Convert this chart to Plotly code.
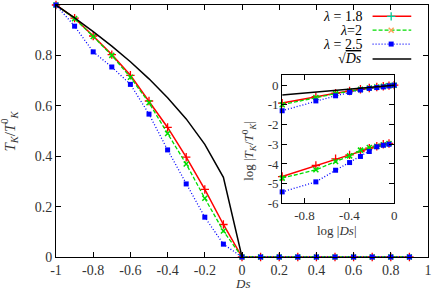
import plotly.graph_objects as go

# ---------------- data ----------------
ds = [-1, -0.9, -0.8, -0.7, -0.6, -0.5, -0.4, -0.3, -0.2, -0.1, 0,
      0.1, 0.2, 0.3, 0.4, 0.5, 0.6, 0.7, 0.8, 0.9]
tk_18 = [1, 0.948, 0.877, 0.803, 0.721, 0.619, 0.514, 0.396, 0.268, 0.129, 0,
         0, 0, 0, 0, 0, 0, 0, 0, 0]
tk_2 = [1, 0.946, 0.875, 0.800, 0.713, 0.612, 0.490, 0.369, 0.233, 0.103, 0,
        0, 0, 0, 0, 0, 0, 0, 0, 0]
tk_25 = [1, 0.916, 0.814, 0.754, 0.685, 0.567, 0.425, 0.290, 0.158, 0.051, 0,
         0, 0, 0, 0, 0, 0, 0, 0, 0]
ds_sqrt = [-1, -0.9, -0.8, -0.7, -0.6, -0.5, -0.4, -0.3, -0.2, -0.1, 0]
tk_sqrt = [1, 0.949, 0.894, 0.837, 0.775, 0.707, 0.632, 0.548, 0.447, 0.316, 0]

# inset (log10)
log_ds_up = [-1, -0.699, -0.523, -0.398, -0.301, -0.222, -0.155, -0.097, -0.046, 0]
up_18 = [-0.91, -0.58, -0.41, -0.30, -0.21, -0.145, -0.095, -0.057, -0.024, 0]
up_2 = [-0.99, -0.63, -0.43, -0.31, -0.215, -0.148, -0.097, -0.058, -0.025, 0]
up_25 = [-1.30, -0.80, -0.54, -0.37, -0.246, -0.164, -0.123, -0.089, -0.038, 0]
up_sqrt = [-0.5, -0.349, -0.262, -0.199, -0.151, -0.111, -0.077, -0.048, -0.023, 0]
log_ds_lo = [-1, -0.699, -0.523, -0.398, -0.301, -0.222, -0.155, -0.097, -0.046]
lo_18 = [-4.64, -4.08, -3.74, -3.54, -3.37, -3.20, -3.10, -3.00, -2.96]
lo_2 = [-4.72, -4.30, -3.88, -3.59, -3.30, -3.17, -3.10, -3.03, -2.96]
lo_25 = [-5.42, -4.91, -4.32, -3.93, -3.62, -3.37, -3.13, -3.05, -3.00]

x_ticks = [-1, -0.8, -0.6, -0.4, -0.2, 0, 0.2, 0.4, 0.6, 0.8, 1]
x_ticktext = ["-1", "-0.8", "-0.6", "-0.4", "-0.2", "0", "0.2", "0.4", "0.6", "0.8", "1"]
y_ticks = [0, 0.2, 0.4, 0.6, 0.8, 1]
y_ticktext = ["0", "0.2", "0.4", "0.6", "0.8", "1"]
ix_ticks = [-0.8, -0.4, 0]
ix_ticktext = ["-0.8", "-0.4", "0"]
iy_ticks = [0, -1, -2, -3, -4, -5, -6]
iy_ticktext = ["0", "-1", "-2", "-3", "-4", "-5", "-6"]

legend_labels = ["<i>λ</i> = 1.8", "<i>λ</i>=2", "<i>λ</i> = 2.5",
                 "√<span style='text-decoration:overline'><i>Ds</i></span>"]

# ---------------- styles ----------------
RED, GREEN, BLUE, BLACK = "#ff0000", "#00dd00", "#0000ff", "#000000"
FONT = "Liberation Serif, DejaVu Serif, serif"
styles = [
    dict(line=dict(color=RED, width=1.5, dash="solid"),
         marker=dict(symbol="cross-thin-open", size=6, line=dict(color=RED, width=1.3))),
    dict(line=dict(color=GREEN, width=1.3, dash="4px,2px"),
         marker=dict(symbol="x-thin-open", size=5, line=dict(color=GREEN, width=1.5))),
    dict(line=dict(color=BLUE, width=1.3, dash="1px,2px"),
         marker=dict(symbol="square", size=5, color=BLUE, line=dict(width=0))),
    dict(line=dict(color=BLACK, width=1.5, dash="solid"), marker=None),
]

fig = go.Figure()

main_series = [(ds, tk_18), (ds, tk_2), (ds, tk_25), (ds_sqrt, tk_sqrt)]
for (xs, ys), st in zip(main_series, styles):
    mode = "lines+markers" if st["marker"] else "lines"
    kw = dict(x=xs, y=ys, mode=mode, line=st["line"], showlegend=False,
              cliponaxis=False, xaxis="x", yaxis="y")
    if st["marker"]:
        kw["marker"] = st["marker"]
    fig.add_trace(go.Scatter(**kw))

inset_series = [
    (log_ds_up, up_18, 0), (log_ds_up, up_2, 1), (log_ds_up, up_25, 2), (log_ds_up, up_sqrt, 3),
    (log_ds_lo, lo_18, 0), (log_ds_lo, lo_2, 1), (log_ds_lo, lo_25, 2),
]
for xs, ys, si in inset_series:
    st = styles[si]
    mode = "lines+markers" if st["marker"] else "lines"
    kw = dict(x=xs, y=ys, mode=mode, line=st["line"], showlegend=False,
              cliponaxis=False, xaxis="x2", yaxis="y2")
    if st["marker"]:
        kw["marker"] = st["marker"]
    fig.add_trace(go.Scatter(**kw))

# ---------------- manual legend (text left, sample right) ----------------
leg_y = [0.955, 0.900, 0.845, 0.786]
for i, (lab, st) in enumerate(zip(legend_labels, styles)):
    fig.add_trace(go.Scatter(x=[0.851, 0.955], y=[leg_y[i]] * 2, mode="lines",
                             line=st["line"], showlegend=False, hoverinfo="skip",
                             xaxis="x3", yaxis="y3"))
    if st["marker"]:
        fig.add_trace(go.Scatter(x=[0.901], y=[leg_y[i]], mode="markers",
                                 marker=st["marker"], showlegend=False, hoverinfo="skip",
                                 xaxis="x3", yaxis="y3", cliponaxis=False))
    fig.add_annotation(text=lab, x=0.829, y=leg_y[i], xref="paper", yref="paper",
                       xanchor="right", yanchor="middle", showarrow=False,
                       font=dict(family=FONT, size=14, color="black"))

axis_common = dict(showline=True, linecolor="black", linewidth=1, mirror="ticks",
                   ticks="inside", ticklen=5, tickcolor="black", tickwidth=1,
                   showgrid=False, zeroline=False)
main_tick = dict(tickfont=dict(family=FONT, size=14, color="#333333"))
inset_tick = dict(tickfont=dict(family=FONT, size=13, color="#333333"))

fig.update_layout(
    width=436, height=291,
    margin=dict(l=56, r=5, t=4, b=34),
    paper_bgcolor="white", plot_bgcolor="rgba(0,0,0,0)",
    font=dict(family=FONT),
    xaxis=dict(range=[-1, 1], tickvals=x_ticks, ticktext=x_ticktext, domain=[0, 1],
               anchor="y", **axis_common, **main_tick),
    yaxis=dict(range=[0, 1], tickvals=y_ticks, ticktext=y_ticktext, domain=[0, 1],
               anchor="x", **axis_common, **main_tick),
    xaxis2=dict(range=[-1, 0], tickvals=ix_ticks, ticktext=ix_ticktext,
                domain=[0.608, 0.909], anchor="y2", **axis_common, **inset_tick),
    yaxis2=dict(range=[-6, 0.5], tickvals=iy_ticks, ticktext=iy_ticktext,
                domain=[0.213, 0.721], anchor="x2", **axis_common, **inset_tick),
    xaxis3=dict(range=[0, 1], domain=[0, 1], anchor="y3", visible=False, fixedrange=True),
    yaxis3=dict(range=[0, 1], domain=[0, 1], anchor="x3", visible=False, fixedrange=True),
    showlegend=False,
)

# axis titles
title_font = dict(family=FONT, size=15, color="#333333")
fig.add_annotation(text="<i>T<sub>K</sub></i>/<i>T</i><sup>0</sup><sub><i>K</i></sub>",
                   x=-0.125, y=0.5, xref="paper", yref="paper", textangle=-90,
                   xanchor="center", yanchor="middle", showarrow=False, font=title_font)
fig.add_annotation(text="<i>Ds</i>", x=0.5, y=-0.104, xref="paper", yref="paper",
                   xanchor="center", yanchor="middle", showarrow=False,
                   font=dict(family=FONT, size=13, color="#333333"))
fig.add_annotation(text="log |<i>T<sub>K</sub></i>/<i>T</i><sup>0</sup><sub><i>K</i></sub>|",
                   x=0.518, y=0.42, xref="paper", yref="paper", textangle=-90,
                   xanchor="center", yanchor="middle", showarrow=False,
                   font=dict(family=FONT, size=13, color="#333333"))
fig.add_annotation(text="log |<i>Ds</i>|", x=0.755, y=0.105, xref="paper", yref="paper",
                   xanchor="center", yanchor="middle", showarrow=False,
                   font=dict(family=FONT, size=13, color="#333333"))

fig.write_html("out.html", config={"displayModeBar": False},
               post_script="document.body.style.margin='0px';")
